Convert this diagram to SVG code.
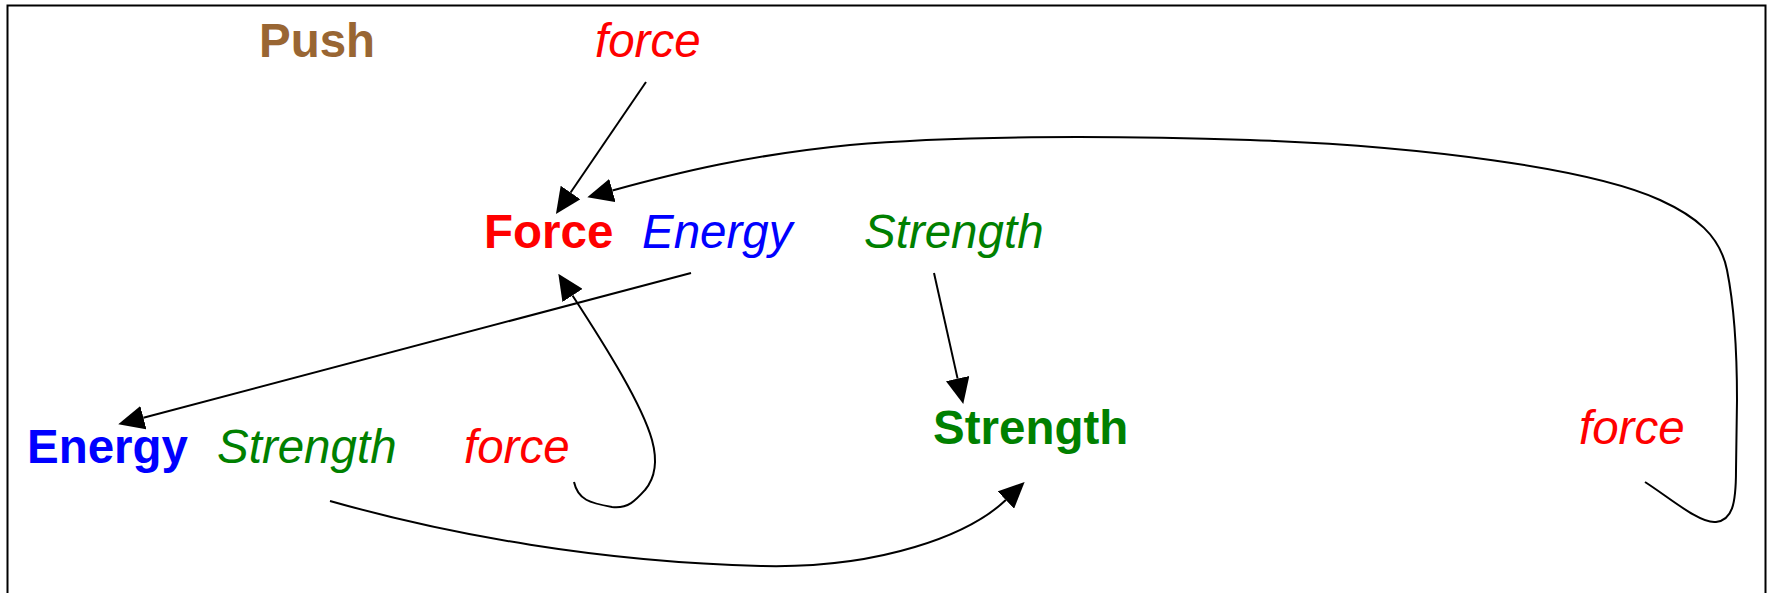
<svg xmlns="http://www.w3.org/2000/svg" width="1769" height="593" viewBox="0 0 1769 593">
<style>
text{font-family:"Liberation Sans",Arial,sans-serif;font-size:47.5px}
.b{font-weight:bold}
.i{font-style:italic}
.red{fill:#ff0000}
.blue{fill:#0000ff}
.green{fill:#008000}
.brown{fill:#996633}
.edge{fill:none;stroke:#000;stroke-width:2;marker-end:url(#ah)}
</style>
<defs>
<marker id="ah" markerUnits="userSpaceOnUse" viewBox="0 0 26 24" markerWidth="26" markerHeight="24" refX="0" refY="12" orient="auto">
<path d="M0,0 L26,12 L0,24 z" fill="#000"/>
</marker>
</defs>
<rect x="7.5" y="5.5" width="1758" height="620" fill="#fff" stroke="#000" stroke-width="2"/>
<g id="push"><text class="b brown" x="259" y="57">Push</text></g>
<g id="force-top"><text class="i red" x="595" y="57">force</text></g>
<g id="Force"><text class="b red" x="484" y="248">Force</text></g>
<g id="energy-top"><text class="i blue" x="642" y="248">Energy</text></g>
<g id="strength-top"><text class="i green" x="864" y="248">Strength</text></g>
<g id="Energy"><text class="b blue" x="27" y="463">Energy</text></g>
<g id="strength-left"><text class="i green" x="217" y="463">Strength</text></g>
<g id="force-mid"><text class="i red" x="464" y="463">force</text></g>
<g id="Strength"><text class="b green" x="933" y="444">Strength</text></g>
<g id="force-right"><text class="i red" x="1579" y="444">force</text></g>
<g id="connectors">
<path class="edge" d="M646,82 L570.6,192.5"/>
<path class="edge" d="M1645,482 C1670,498 1700,524 1716,522 C1732,520 1736,505 1736,470 L1737,400 C1737,350 1733,300 1727,270 C1720,235 1695,216 1660,200 C1590,168 1420,146 1250,140 C1100,135 950,136 850,145 C750,155 680,172 612.4,190.5"/>
<path class="edge" d="M691,273 L143.4,417.7"/>
<path class="edge" d="M934,273 L957.6,378.6"/>
<path class="edge" d="M574,482 C578,500 590,503 612,507 C628,509 636,500 645,490 C655,478 658,462 652,440 C642,405 608,350 572.5,295.5"/>
<path class="edge" d="M330,501 C450,535 600,562 761,566 C881,569 969.6,534.5 1005.8,500"/>
</g>
</svg>
